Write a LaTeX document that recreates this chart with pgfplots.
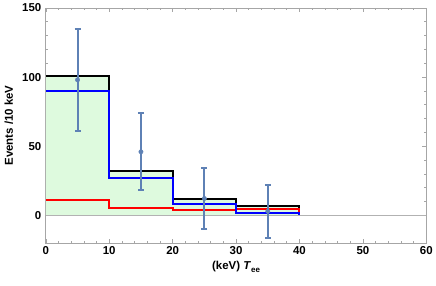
\documentclass[border=0pt]{standalone}
\usepackage{pgfplots}
\pgfplotsset{compat=1.18}
\usepackage{fontspec}
\setmainfont{Liberation Sans}
\definecolor{frm}{gray}{0.65}
\definecolor{ebar}{rgb}{0.368,0.507,0.710}
\definecolor{fillg}{rgb}{0.87,0.98,0.87}
\begin{document}
\begin{tikzpicture}
\begin{axis}[
  scale only axis,
  width=382pt, height=236pt,
  xmin=0, xmax=60, ymin=-20, ymax=150,
  xtick={0,10,...,60}, ytick={0,50,100,150},
  minor x tick num=4, minor y tick num=4,
  tick align=inside,
  major tick length=4pt, minor tick length=2pt,
  axis line style={frm, line width=0.9pt},
  every tick/.style={frm, line width=0.6pt},
  tick label style={font=\fontsize{11.5}{13}\selectfont\bfseries},
  yticklabel style={xshift=-1pt},
  /pgf/number format/assume math mode=true,
  xlabel={\fontsize{11.5}{13}\selectfont\bfseries (keV) \textit{T}\raisebox{-0.35ex}{\fontsize{8}{9}\selectfont ee}},
  ylabel={\fontsize{11.5}{13}\selectfont\bfseries Events /10 keV},
  every axis x label/.style={at={(axis description cs:0.5,0)}, anchor=center, yshift=-24pt},
  every axis y label/.style={at={(axis description cs:-0.097,0.5)}, rotate=90, anchor=center},
  clip=false,
]
\addplot[fill=fillg, draw=none] coordinates {(0,0)(0,101)(10,101)(10,32)(20,32)(20,12)(30,12)(30,6.5)(40,6.5)(40,0)} -- cycle;
\addplot[gray!60, line width=0.6pt] coordinates {(0,0)(60,0)};
\addplot[black, line width=2pt] coordinates {(0,101)(10,101)(10,32)(20,32)(20,12)(30,12)(30,6.5)(40,6.5)(40,0)};
\addplot[red, line width=2pt] coordinates {(0,11)(10,11)(10,5)(20,5)(20,3.6)(30,3.6)(30,4.5)(40,4.5)(40,0)};
\addplot[blue, line width=2pt] coordinates {(0,90)(10,90)(10,27)(20,27)(20,8)(30,8)(30,2)(40,2)(40,0)};
\addplot[ebar, only marks, mark=*, mark size=2.2pt,
  error bars/.cd, y dir=both, y explicit,
  error bar style={line width=2pt},
  error mark options={rotate=90, mark size=3pt, line width=2pt}]
  coordinates {
  (5,98) +- (0,37)
  (15,46) +- (0,28)
  (25,12.2) +- (0,22)
  (35,3) +- (0,19)
  };
\end{axis}
\path ([xshift=-46pt,yshift=-43pt]current axis.south west) ([xshift=8pt,yshift=8pt]current axis.north east);
\end{tikzpicture}
\end{document}
